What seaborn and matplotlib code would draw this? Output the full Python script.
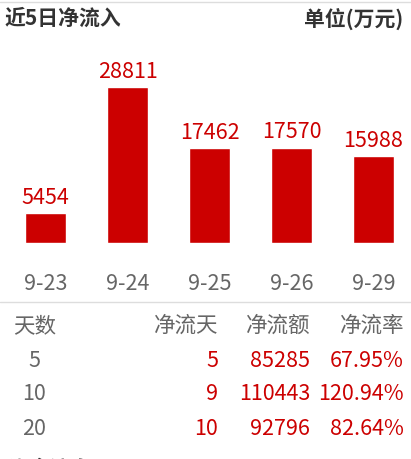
import matplotlib
matplotlib.use("Agg")
import matplotlib.pyplot as plt
import seaborn as sns
import pandas as pd

dates = ["9-23", "9-24", "9-25", "9-26", "9-29"]
inflow = [5454, 28811, 17462, 17570, 15988]

table_days = ["5", "10", "20"]
net_days = ["5", "9", "10"]
net_amount = ["85285", "110443", "92796"]
net_rate = ["67.95%", "120.94%", "82.64%"]
table_headers = ["天数", "净流天", "净流额", "净流率"]

title_left = "近5日净流入"
title_right = "单位(万元)"

sns.set_theme(style="white")
plt.rcParams['font.family'] = ['Noto Sans CJK SC', 'DejaVu Sans']

W, H = 411, 459
fig = plt.figure(figsize=(W / 100, H / 100), dpi=100)

def fy(py):
    return 1 - py / H

RED = "#cc0000"
GRAY = "#666666"
DARK = "#333333"

# bar axes
ax = fig.add_axes([0, fy(242.7), 1, fy(60) - fy(242.7)])
df = pd.DataFrame({"date": dates, "inflow": inflow})
sns.barplot(data=df, x="date", y="inflow", color=RED, saturation=1, width=0.5, ax=ax)
ax.set_xlim(-45.5 / 82, (W - 45.5) / 82)
ax.set_ylim(0, 28811 * (242.7 - 60) / 156)
for c in ax.containers:
    ax.bar_label(c, labels=[str(v) for v in inflow], padding=3, color=RED, fontsize=15.5)
ax.set_xlabel("")
ax.set_ylabel("")
ax.set_yticks([])
ax.tick_params(axis="x", length=0, pad=22, labelsize=15.5, labelcolor=GRAY)
for s in ax.spines.values():
    s.set_visible(False)
ax.patch.set_alpha(0)

# header
fig.text(5 / W, fy(18.5), title_left, fontsize=15, fontweight="bold", color=DARK, va="center", ha="left")
fig.text(403 / W, fy(18.5), title_right, fontsize=15, fontweight="bold", color=DARK, va="center", ha="right")

# lines
fig.add_artist(plt.Line2D([0, 1], [fy(1.5), fy(1.5)], color="#dddddd", lw=1))
fig.add_artist(plt.Line2D([0, 1], [fy(301.5), fy(301.5)], color="#dddddd", lw=1))

# table
ys = [326, 361, 394, 429]
FS = 15.5
fig.text(13 / W, fy(ys[0]), table_headers[0], fontsize=FS, color=GRAY, va="center", ha="left")
for hx, h in zip([218, 310, 404], table_headers[1:]):
    fig.text(hx / W, fy(ys[0]), h, fontsize=FS, color=GRAY, va="center", ha="right")
for i in range(3):
    y = fy(ys[i + 1])
    fig.text(34 / W, y, table_days[i], fontsize=FS, color=GRAY, va="center", ha="center")
    fig.text(218 / W, y, net_days[i], fontsize=FS, color=RED, va="center", ha="right")
    fig.text(310 / W, y, net_amount[i], fontsize=FS, color=RED, va="center", ha="right")
    fig.text(404 / W, y, net_rate[i], fontsize=FS, color=RED, va="center", ha="right")

fig.text(8 / W, fy(469.5), "资金流向", fontsize=15, fontweight="bold", color=DARK, va="center", ha="left")

fig.savefig("out.png", dpi=100)
